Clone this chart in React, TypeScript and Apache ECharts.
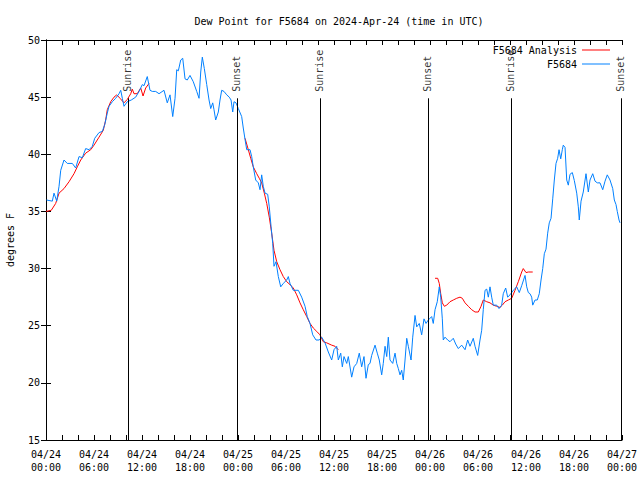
import React, { useEffect, useRef } from "react";
import * as echarts from "echarts";

// Hours since 2024-04-24 00:00 UTC
const stationHours = [
  0.06, 0.79, 1.0, 1.34, 1.63, 1.84, 2.25, 2.66, 3.29, 3.71, 4.13, 4.54, 4.96, 5.38, 5.79, 6.09, 6.63, 7.04, 7.34, 7.66,
  7.88, 8.29, 8.71, 9.13, 9.34, 9.54, 9.75, 10.16, 10.66, 11.21, 11.63, 12.04, 12.25, 12.66, 13.0, 13.29, 13.71, 14.13,
  14.75, 15.16, 15.5, 15.84, 16.13, 16.34, 16.54, 16.84, 17.09, 17.38, 17.66, 18.0, 18.41, 18.84, 19.13, 19.34, 19.54,
  19.79, 20.09, 20.38, 20.59, 20.84, 21.0, 21.21, 21.54, 21.75, 21.96, 22.25, 22.59, 22.91, 23.13, 23.34, 23.5, 23.75,
  24.04, 24.46, 24.66, 24.88, 25.09, 25.5, 25.71, 25.91, 26.21, 26.54, 26.75, 26.96, 27.16, 27.38, 27.71, 27.91, 28.13,
  28.34, 28.5, 28.75, 29.04, 29.34, 29.66, 30.09, 30.29, 30.5, 30.91, 31.54, 31.96, 32.38, 32.66, 33.0, 33.34, 33.75,
  34.16, 34.46, 34.88, 35.29, 35.71, 36.0, 36.34, 36.54, 36.84, 37.04, 37.25, 37.59, 37.79, 38.21, 38.5, 38.84, 39.16,
  39.46, 39.75, 40.0, 40.29, 40.5, 40.71, 41.13, 41.41, 41.66, 41.96, 42.16, 42.38, 42.59, 42.79, 43.0, 43.34, 43.63,
  43.84, 44.04, 44.25, 44.46, 44.66, 44.88, 45.09, 45.29, 45.63, 45.84, 46.13, 46.34, 46.66, 46.96, 47.25, 47.5, 47.79,
  48.21, 48.41, 48.63, 48.91, 49.16, 49.34, 49.54, 49.66, 49.88, 50.21, 50.5, 50.91, 51.21, 51.54, 51.96, 52.38, 52.71,
  53.0, 53.41, 53.63, 53.96, 54.25, 54.46, 54.66, 54.88, 55.09, 55.29, 55.5, 55.71, 55.91, 56.34, 56.63, 56.96, 57.16,
  57.46, 57.71, 58.0, 58.41, 58.84, 59.16, 59.46, 59.88, 60.09, 60.29, 60.5, 60.71, 60.84, 61.13, 61.41, 61.66, 61.88,
  62.09, 62.29, 62.5, 62.71, 62.91, 63.13, 63.34, 63.54, 63.75, 63.96, 64.13, 64.34, 64.54, 64.66, 64.88, 65.09, 65.29,
  65.5, 65.79, 66.04, 66.34, 66.54, 66.66, 66.88, 67.16, 67.5, 67.79, 68.0, 68.34, 68.63, 68.91, 69.25, 69.59, 69.88,
  70.16, 70.5, 70.84, 71.04, 71.25, 71.41, 71.63, 71.75,
];

const stationValues = [
  36.0, 35.9, 36.6, 35.9, 37.2, 38.6, 39.5, 39.2, 39.2, 38.8, 39.8, 39.7, 40.5, 40.4, 40.7, 41.4, 41.9, 42.0, 42.6, 43.6,
  44.2, 44.6, 44.9, 45.3, 45.6, 44.9, 44.2, 44.6, 44.75, 45.0, 45.5, 46.1, 46.0, 46.8, 45.6, 45.5, 45.5, 45.3,
  45.6, 44.5, 45.2, 43.3, 44.9, 47.4, 47.3, 48.25, 48.4, 46.6, 46.5, 46.9, 46.35, 45.5, 44.9, 47.2, 48.5,
  47.5, 46.1, 44.75, 44.0, 44.5, 43.9, 43.0, 43.7, 44.75, 45.6, 45.5, 45.2, 45.0, 44.75, 43.7, 44.6, 44.5,
  44.0, 43.3, 42.3, 41.3, 40.4, 40.4, 39.8, 38.9, 37.75, 37.5, 36.9, 38.2, 37.2, 36.6, 36.5, 35.4, 33.7,
  32.2, 30.2, 30.6, 29.3, 28.4, 28.7, 29.0, 29.3, 28.7, 28.1, 28.1, 27.5, 26.7, 25.8, 25.2, 24.2, 23.75,
  23.75, 24.0, 23.5, 22.7, 22.0, 22.9, 23.2, 22.0, 22.6, 21.4, 22.3, 21.7, 22.3, 20.5, 21.4, 21.7, 22.6,
  21.4, 22.3, 20.4, 21.6, 21.7, 22.4, 23.3, 22.6, 22.0, 20.7, 21.7, 23.2, 22.3, 24.0, 22.0, 21.7, 22.6,
  21.7, 21.25, 20.7, 21.1, 20.25, 22.0, 23.9, 23.2, 22.0, 24.0, 25.9, 24.9, 25.2, 24.2, 25.6, 25.2, 25.5,
  25.8, 25.2, 26.4, 27.1, 28.4, 27.5, 25.6, 23.75, 24.0, 23.75, 23.6, 23.9, 23.4, 23.0, 23.3, 22.9, 23.75,
  23.2, 23.9, 23.2, 22.4, 23.75, 24.6, 26.4, 28.1, 28.2, 27.5, 28.4, 27.5, 26.8, 26.8, 26.5, 26.8, 27.8,
  28.3, 27.5, 27.7, 28.1, 28.4, 27.9, 28.5, 29.4, 28.4, 27.9, 27.8, 27.5, 26.8, 27.25, 27.25, 27.8, 29.0,
  30.0, 31.3, 31.7, 33.1, 34.0, 34.4, 36.1, 37.75, 39.2, 39.65, 40.4, 39.6, 40.4, 40.8, 40.6, 37.75, 37.3,
  38.25, 38.4, 37.7, 36.6, 35.4, 34.25, 35.9, 36.7, 38.3, 36.7, 37.75, 38.3, 37.65, 37.5, 37.5, 36.9, 37.65,
  38.2, 37.75, 37.0, 36.0, 35.6, 35.0, 34.25, 34.0,
];

// Analysis: null entries break the line into segments
const analysisHours = [
  0.0, 0.66, 1.21, 1.63, 2.25, 2.88, 3.5, 3.91, 4.34, 4.96, 5.59, 6.0, 6.63, 7.16, 7.46, 7.66, 8.09, 8.5, 8.84, 9.25,
  9.75, 10.16, 10.59, 10.79, 11.0, 11.41, 11.84, 12.13, 12.46, 12.88, 13.0,
  24.88, 25.29, 25.59, 25.91, 26.34, 26.66, 26.96, 27.29, 27.59, 27.91, 28.21, 28.5, 28.84, 29.25, 29.66, 30.09, 30.5,
  30.91, 31.34, 31.75, 32.16, 32.59, 33.0, 33.41, 33.84, 34.25, 34.66, 35.09, 35.71, 36.13, 36.54, 36.6,
  48.63, 48.96, 49.16, 49.34, 49.54, 49.79, 50.09, 50.5, 50.91, 51.34, 51.75, 52.04, 52.38, 52.79, 53.21, 53.63, 54.04,
  54.38, 54.66, 55.09, 55.5, 55.91, 56.34, 56.75, 57.04, 57.38, 57.79, 58.21, 58.63, 59.04, 59.46, 59.66, 60.0, 60.29,
  60.84,
];
const analysisValues = [
  35.0, 35.1, 35.7, 36.6, 37.0, 37.6, 38.3, 38.9, 39.5, 40.1, 40.4, 40.8, 41.5, 42.1, 43.0, 43.9, 44.6, 45.0, 45.2, 44.9,
  44.5, 44.8, 45.3, 45.7, 45.3, 45.3, 45.8, 45.1, 45.8, 46.2, null,
  41.4, 40.4, 39.65, 38.9, 38.3, 37.9, 37.5, 36.6, 35.7, 34.5, 33.1, 31.6, 30.6, 29.9, 29.3, 28.85, 28.6,
  28.3, 27.7, 27.0, 26.4, 25.8, 25.2, 24.8, 24.5, 24.2, 23.6, 23.5, 23.3, 23.2, 22.9, null,
  29.15, 29.15, 28.7, 27.8, 27.0, 26.7, 26.8, 27.1, 27.25, 27.4, 27.5, 27.4, 27.0, 26.7, 26.4, 26.2, 26.2,
  26.7, 27.25, 27.1, 27.0, 26.8, 26.7, 26.6, 26.8, 27.1, 27.25, 27.4, 28.1, 28.85, 29.7, 30.0, 29.65, 29.7,
  29.7,
];

const sunEventHours = [10.25, 23.875, 34.25, 47.75, 58.125, 71.875];
const sunEventNames = ["Sunrise", "Sunset", "Sunrise", "Sunset", "Sunrise", "Sunset"];
const sunLineTop = 44.9;

const dayLabels = ["04/24", "04/25", "04/26", "04/27"];
const timeLabels = ["00:00", "06:00", "12:00", "18:00"];

const FONT = "'DejaVu Sans Mono', 'Liberation Mono', monospace";

export default function App() {
  const ref = useRef<HTMLDivElement>(null);
  useEffect(() => {
    if (!ref.current) return;
    const chart = echarts.init(ref.current, null, { renderer: "svg" });
    const stationData = stationHours.map((h, i) => [h, stationValues[i]]);
    const analysisData = analysisHours.map((h, i) => [h, analysisValues[i]]);
    const sunLines = sunEventHours.map((h) => [
      { coord: [h, 15] },
      { coord: [h, sunLineTop] },
    ]);
    const sunLabels = sunEventHours.map((h, i) => ({ value: [h, sunLineTop], name: sunEventNames[i] }));

    const xFmt = (v: number) => {
      const d = Math.floor(v / 24);
      const t = Math.round((v % 24) / 6);
      return dayLabels[d] + "\n" + timeLabels[t];
    };
    const textStyle = { fontFamily: FONT, fontSize: 10, color: "#000" };

    chart.setOption({
      animation: false,
      backgroundColor: "#fff",
      title: {
        text: "Dew Point for F5684 on 2024-Apr-24 (time in UTC)",
        left: 334,
        textAlign: "center",
        top: 11,
        textStyle: { ...textStyle, fontWeight: "normal" },
      },
      legend: [
        {
          data: [{ name: "F5684 Analysis" }],
          right: 30,
          top: 45,
          align: "right",
          itemWidth: 28,
          itemHeight: 1,
          itemGap: 8,
          icon: "rect",
          textStyle: { ...textStyle },
          padding: 0,
        },
        {
          data: [{ name: "F5684" }],
          right: 30,
          top: 59,
          align: "right",
          itemWidth: 28,
          itemHeight: 1,
          icon: "rect",
          textStyle: { ...textStyle },
          padding: 0,
        },
      ],
      grid: { left: 46, right: 18, top: 40, bottom: 40, containLabel: false, outerBoundsMode: "none" },
      xAxis: [
        {
          type: "value",
          min: 0,
          max: 72,
          interval: 6,
          axisLine: { lineStyle: { color: "#000", width: 1 } },
          axisTick: { inside: true, length: 5, lineStyle: { color: "#000" } },
          minorTick: { show: true, splitNumber: 3, length: 5, lineStyle: { color: "#000" } },
          splitLine: { show: false },
          axisLabel: { ...textStyle, lineHeight: 13, margin: 8, formatter: xFmt, showMinLabel: true, showMaxLabel: true },
        },
        {
          type: "value",
          position: "top",
          min: 0,
          max: 72,
          interval: 6,
          axisLine: { show: true, lineStyle: { color: "#000", width: 1 } },
          axisTick: { inside: true, length: 5, lineStyle: { color: "#000" } },
          minorTick: { show: true, splitNumber: 3, length: 5, lineStyle: { color: "#000" } },
          splitLine: { show: false },
          axisLabel: { show: false },
        },
      ],
      yAxis: [
        {
          type: "value",
          min: 15,
          max: 50,
          interval: 5,
          name: "degrees F",
          nameLocation: "middle",
          nameRotate: 90,
          nameGap: 31,
          nameTextStyle: textStyle,
          axisLine: { show: true, lineStyle: { color: "#000", width: 1 } },
          axisTick: { show: true, inside: true, length: 5, lineStyle: { color: "#000" } },
          splitLine: { show: false },
          axisLabel: { ...textStyle, margin: 6 },
        },
        {
          type: "value",
          position: "right",
          min: 15,
          max: 50,
          interval: 5,
          axisLine: { show: true, lineStyle: { color: "#000", width: 1 } },
          axisTick: { show: true, inside: true, length: 5, lineStyle: { color: "#000" } },
          splitLine: { show: false },
          axisLabel: { show: false },
        },
      ],
      series: [
        {
          name: "sun",
          type: "scatter",
          symbolSize: 1,
          itemStyle: { color: "rgba(0,0,0,0)" },
          data: sunLabels,
          silent: true,
          z: 5,
          label: {
            show: true,
            formatter: (p: any) => p.name,
            position: [0, -6],
            align: "left",
            verticalAlign: "middle",
            rotate: 90,
            ...textStyle,
          },
          markLine: {
            silent: true,
            symbol: ["none", "none"],
            label: { show: false },
            lineStyle: { color: "#000", width: 1, type: "solid" },
            data: sunLines,
          },
        },
        {
          name: "F5684 Analysis",
          type: "line",
          data: analysisData,
          showSymbol: false,
          connectNulls: false,
          lineStyle: { color: "#ff0000", width: 1 },
          itemStyle: { color: "#ff0000" },
          z: 3,
        },
        {
          name: "F5684",
          type: "line",
          data: stationData,
          showSymbol: false,
          lineStyle: { color: "#0080ff", width: 1 },
          itemStyle: { color: "#0080ff" },
          z: 4,
        },
      ],
    });
    return () => chart.dispose();
  }, []);
  return <div ref={ref} style={{ width: 640, height: 480, position: "absolute", left: 0, top: 0 }} />;
}
